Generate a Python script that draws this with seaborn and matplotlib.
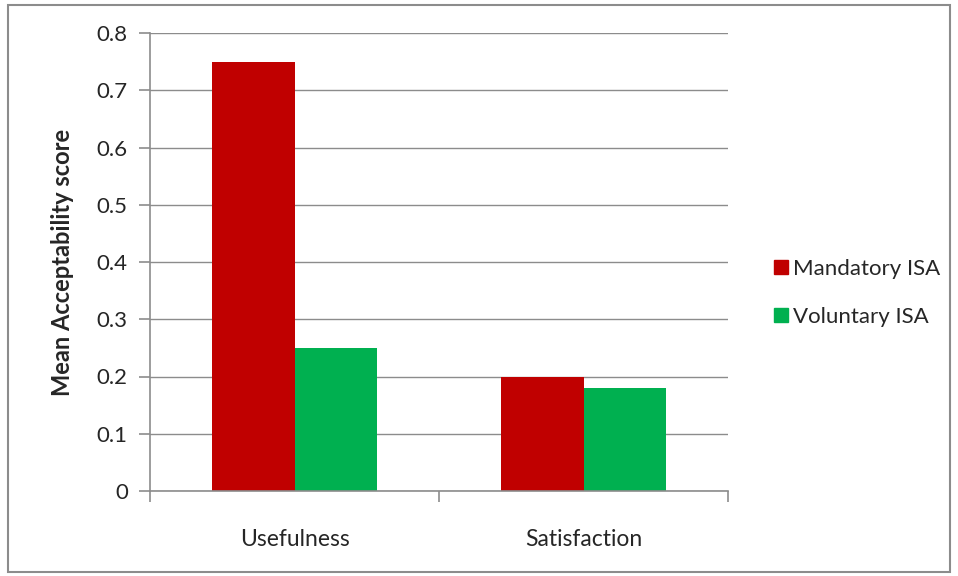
import matplotlib
matplotlib.use("Agg")
import matplotlib.pyplot as plt
import seaborn as sns
import pandas as pd
from matplotlib.patches import Rectangle
from matplotlib.lines import Line2D

categories = ["Usefulness", "Satisfaction"]
series = ["Mandatory ISA", "Voluntary ISA"]
mandatory = [0.75, 0.20]
voluntary = [0.25, 0.18]
colors = ["#C00000", "#00B050"]

df = pd.DataFrame({
    "category": categories * 2,
    "group": [series[0]] * 2 + [series[1]] * 2,
    "score": mandatory + voluntary,
})

sns.set_theme(style="white")
plt.rcParams["font.family"] = ["Lato", "DejaVu Sans"]

fig = plt.figure(figsize=(9.58, 5.76), dpi=100)
ax = fig.add_axes([150 / 958, 1 - 491 / 576, (728 - 150) / 958, (491 - 33) / 576])

sns.barplot(data=df, x="category", y="score", hue="group", order=categories,
            hue_order=series, palette=colors, width=0.574, saturation=1,
            linewidth=0, ax=ax, legend=False)

ax.set_xlim(-0.5, 1.5)
ax.set_ylim(0, 0.8)
ax.set_yticks([i / 10 for i in range(9)])
ax.set_yticklabels(["0"] + [f"{i / 10:.1f}" for i in range(1, 9)])
ax.yaxis.grid(True, color="#8C8C8C", linewidth=1)
ax.set_axisbelow(True)

for side in ["top", "right"]:
    ax.spines[side].set_visible(False)
for side in ["left", "bottom"]:
    ax.spines[side].set_color("#8C8C8C")
    ax.spines[side].set_linewidth(1.2)

ax.tick_params(axis="y", which="major", direction="out", length=8, width=1.2,
               color="#8C8C8C", labelsize=16, pad=8, left=True)
ax.tick_params(axis="x", which="major", length=0, labelsize=16.5, pad=27)
ax.set_xticks([-0.5, 0.5, 1.5], minor=True)
ax.tick_params(axis="x", which="minor", direction="out", length=8, width=1.2,
               color="#8C8C8C", bottom=True)

ax.set_xlabel("")
ax.set_ylabel("Mean Acceptability score", fontsize=17, fontweight="bold", labelpad=16)

handles = [Line2D([], [], marker="s", linestyle="", markersize=10,
                  markerfacecolor=c, markeredgecolor=c) for c in colors]
fig.legend(handles, series, loc="center left", bbox_to_anchor=(750 / 958, 1 - 293 / 576),
           frameon=False, fontsize=16, handletextpad=0.05, labelspacing=1.25,
           handlelength=1.0)

fig.patches.append(Rectangle((8 / 958, 4 / 576), 942 / 958, 567 / 576,
                             transform=fig.transFigure, fill=False,
                             edgecolor="#8C8C8C", linewidth=1.5))

fig.savefig("out.png", dpi=100)
